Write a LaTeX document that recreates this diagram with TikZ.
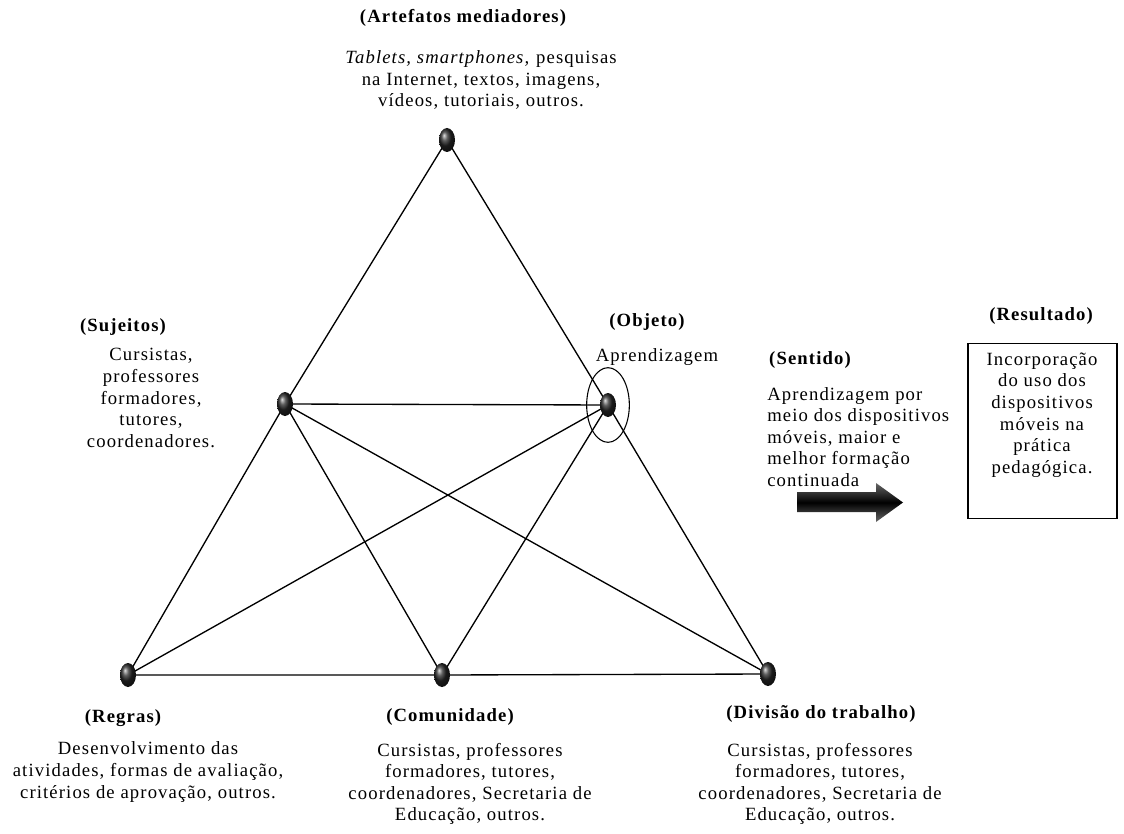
\documentclass[tikz,border=0pt]{standalone}
\usepackage{fontspec}
\setmainfont{Liberation Serif}[LetterSpace=6]
\usetikzlibrary{shapes.geometric,backgrounds}

\begin{document}
\begin{tikzpicture}[x=0.75pt,y=-0.75pt,
        ponto/.style={ellipse, minimum width=12pt, minimum height=18pt, inner sep=0pt, ball color=black!85},
        titulo/.style={font=\fontsize{14}{16}\selectfont\bfseries, inner sep=0pt},
        texto/.style={font=\fontsize{14}{16.2}\selectfont, align=center, inner sep=0pt},
        linha/.style={line width=1pt}]
        \useasboundingbox (0,0) rectangle (1124,834);

        \node[ponto] at (447,140) (art) {};
        \node[ponto] at (285,404) (suj) {};
        \node[ponto] at (608,405) (obj) {};
        \node[ponto] at (128,675) (reg) {};
        \node[ponto] at (442,675) (com) {};
        \node[ponto] at (768,674) (div) {};
        \node[draw, ellipse, line width=0.8pt, minimum width=32pt, minimum height=56pt] at (608,405) (objanel) {};

        \begin{scope}[on background layer]
        \draw[linha] (art.center) -- (suj.center);
        \draw[linha] (art.center) -- (obj.center);
        \draw[linha] (suj.center) -- (obj.center);
        \draw[linha] (suj.center) -- (reg.center);
        \draw[linha] (suj.center) -- (com.center);
        \draw[linha] (suj.center) -- (div.center);
        \draw[linha] (obj.center) -- (reg.center);
        \draw[linha] (obj.center) -- (com.center);
        \draw[linha] (obj.center) -- (div.center);
        \draw[linha] (reg.center) -- (com.center) -- (div.center);
        \end{scope}

        \node[titulo] at (463,18) (tart) {(Artefatos mediadores)};
        \node[texto] at (481,80) (xart) {\textit{Tablets, smartphones,} pesquisas\\na Internet, textos, imagens,\\vídeos, tutoriais, outros.};

        \node[titulo] at (123,327) (tsuj) {(Sujeitos)};
        \node[texto] at (151,398) (xsuj) {Cursistas,\\professores\\formadores,\\tutores,\\coordenadores.};

        \node[titulo] at (647,322) (tobj) {(Objeto)};
        \node[texto] at (657,357) (xobj) {Aprendizagem};

        \node[titulo] at (810,360) (tsen) {(Sentido)};
        \node[texto, align=left, anchor=west] at (767,437) (xsen) {Aprendizagem por\\meio dos dispositivos\\móveis, maior e\\melhor formação\\continuada};

        \shade[top color=black!60, bottom color=black!60, middle color=black] (797,492) -- (876,492) -- (876,483) -- (903,502.5) -- (876,522) -- (876,512) -- (797,512) -- cycle;

        \node[titulo] at (1041,316) (tres) {(Resultado)};
        \node[draw, line width=0.8pt, minimum width=111.75pt, minimum height=131.25pt] at (1042.5,431) (caixa) {};
        \node[texto] at (1042,415) (xres) {Incorporação\\do uso dos\\dispositivos\\móveis na\\prática\\pedagógica.};

        \node[titulo] at (123,718) (treg) {(Regras)};
        \node[texto] at (148,772) (xreg) {Desenvolvimento das\\atividades, formas de avaliação,\\critérios de aprovação, outros.};

        \node[titulo] at (450,717) (tcom) {(Comunidade)};
        \node[texto] at (470,784) (xcom) {Cursistas, professores\\formadores, tutores,\\coordenadores, Secretaria de\\Educação, outros.};

        \node[titulo] at (821,714) (tdiv) {(Divisão do trabalho)};
        \node[texto] at (820,784) (xdiv) {Cursistas, professores\\formadores, tutores,\\coordenadores, Secretaria de\\Educação, outros.};

    \end{tikzpicture}
\end{document}
